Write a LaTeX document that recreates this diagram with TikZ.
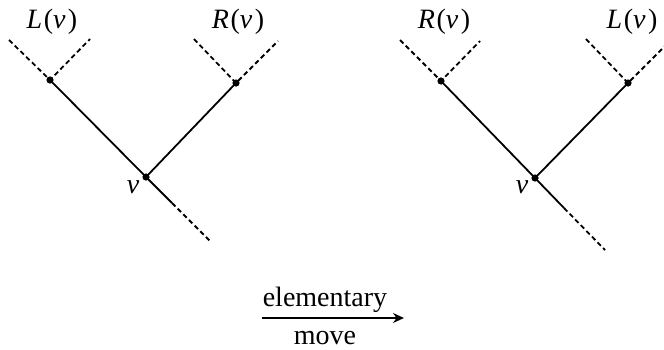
\documentclass[tikz,border=0pt]{standalone}
\usepackage{fontspec}
\setmainfont{Liberation Serif}
\usepackage{tikz}
\usetikzlibrary{arrows.meta,positioning}
\tikzset{
  dotnode/.style={circle,fill=black,inner sep=0pt,minimum size=3.6pt},
  solidedge/.style={line width=0.9pt,black},
  dashedge/.style={line width=0.9pt,black,dash pattern=on 2.4pt off 1.6pt},
  lbl/.style={font=\fontsize{14}{16}\selectfont,inner sep=0pt},
  arr/.style={-{Stealth[length=5.5pt,width=5pt]},line width=0.8pt}
}
\newcommand{\Lv}{\textit{L}\kern0.8pt(\textit{v}\kern1.2pt)}
\newcommand{\Rv}{\textit{R}\kern0.8pt(\textit{v}\kern1.2pt)}

\begin{document}
\begin{tikzpicture}[x=0.5pt,y=-0.5pt]
  \useasboundingbox (0,0) rectangle (664,349);

  %% Before the move
  \node[dotnode] (va) at (146,177) {};
  \node[dotnode] (la) at (50,80) {};
  \node[dotnode] (ra) at (236,83) {};
  \coordinate (sa) at (172,203);
  \coordinate (ea) at (211,242);
  \coordinate (la1) at (9,40); \coordinate (la2) at (90,39);
  \coordinate (ra1) at (194,39); \coordinate (ra2) at (278,41);

  \draw[solidedge] (la.center) -- (va.center) -- (ra.center);
  \draw[solidedge] (va.center) -- (sa);
  \draw[dashedge] (sa) -- (ea);
  \draw[dashedge] (la1) -- (la.center) -- (la2);
  \draw[dashedge] (ra1) -- (ra.center) -- (ra2);

  \node[lbl] (lla) at (52,22) {\Lv};
  \node[lbl] (rla) at (238,22) {\Rv};
  \node[lbl] (vla) at (133,187) {\textit{v}};

  %% After the move
  \node[dotnode] (vb) at (535,178) {};
  \node[dotnode] (rb) at (441,81) {};
  \node[dotnode] (lb) at (628,83) {};
  \coordinate (sb) at (564,208);
  \coordinate (eb) at (605,250);
  \coordinate (rb1) at (400,40); \coordinate (rb2) at (480,41);
  \coordinate (lb1) at (586,39); \coordinate (lb2) at (666,45);

  \draw[solidedge] (rb.center) -- (vb.center) -- (lb.center);
  \draw[solidedge] (vb.center) -- (sb);
  \draw[dashedge] (sb) -- (eb);
  \draw[dashedge] (rb1) -- (rb.center) -- (rb2);
  \draw[dashedge] (lb1) -- (lb.center) -- (lb2);

  \node[lbl] (rlb) at (444,22) {\Rv};
  \node[lbl] (llb) at (632,22) {\Lv};
  \node[lbl] (vlb) at (522,187) {\textit{v}};

  %% Arrow
  \coordinate (as) at (262,318);
  \coordinate (ae) at (404,318);
  \draw[arr] (as) -- (ae);
  \node[lbl,anchor=base] (elem) at (325,306) {elementary};
  \node[lbl,anchor=base] (move) at (325,344) {move};
\end{tikzpicture}
\end{document}
